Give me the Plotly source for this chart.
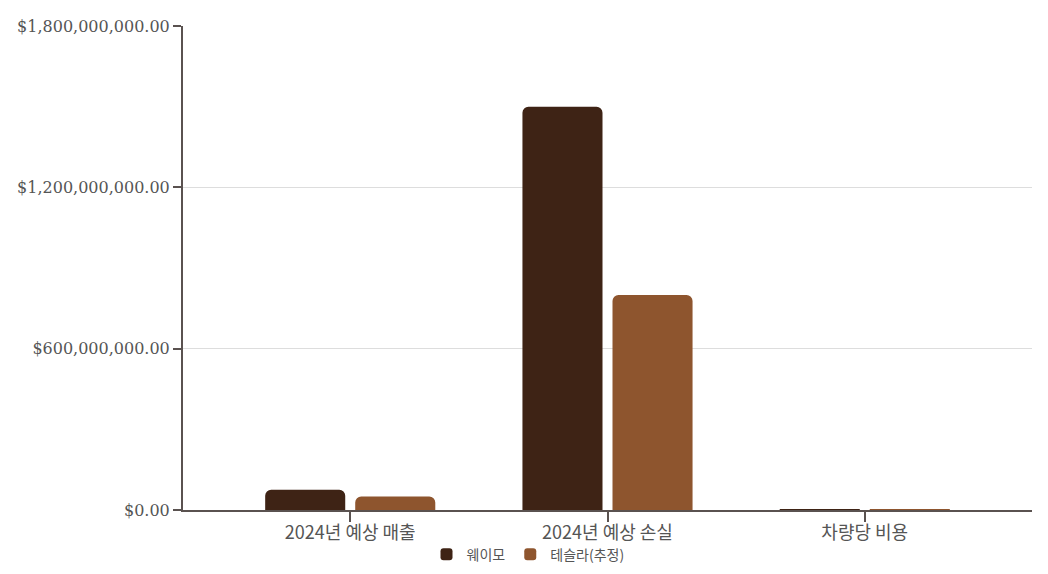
import plotly.graph_objects as go

# data
categories = ["2024년 예상 매출", "2024년 예상 손실", "차량당 비용"]
waymo = [75_000_000, 1_500_000_000, 200_000]
tesla = [50_000_000, 800_000_000, 40_000]
series_names = ["웨이모", "테슬라(추정)"]
colors = ["#3e2315", "#8e552e"]

axis_color = "#5a5250"

fig = go.Figure()
for name, vals, col in zip(series_names, [waymo, tesla], colors):
    fig.add_trace(go.Bar(x=categories, y=vals, name=name,
                         marker=dict(color=col, line=dict(width=0))))

fig.update_layout(
    width=1040, height=566,
    barmode="group", bargap=0.3, bargroupgap=0.111,
    barcornerradius=6,
    plot_bgcolor="white", paper_bgcolor="white",
    margin=dict(l=175, r=16, t=18, b=64, autoexpand=False),
    font=dict(family="Noto Sans CJK KR", color="#555555"),
    legend=dict(orientation="h", xref="container", x=0.5, xanchor="center",
                yref="container", y=0.034, yanchor="middle",
                bgcolor="rgba(0,0,0,0)", tracegroupgap=0,
                font=dict(size=14, family="Noto Sans CJK KR", color="#555555")),
)

fig.update_xaxes(
    range=[-0.65, 2.65],
    showline=True, linecolor=axis_color, linewidth=2,
    ticks="outside", ticklen=10, tickwidth=2, tickcolor=axis_color,
    ticklabelstandoff=-5,
    tickfont=dict(size=18, family="Noto Sans CJK KR", color="#555555"),
    showgrid=False, automargin=False,
)
fig.update_yaxes(
    range=[0, 1_800_000_000], dtick=600_000_000, tickformat="$,.2f",
    showline=True, linecolor=axis_color, linewidth=2,
    ticks="outside", ticklen=8, tickwidth=2, tickcolor=axis_color,
    tickfont=dict(size=16, family="DejaVu Serif", color="#555555"),
    showgrid=True, gridcolor="#dddddd", gridwidth=1,
    zeroline=False, automargin=False,
)

fig.write_html("out.html")
